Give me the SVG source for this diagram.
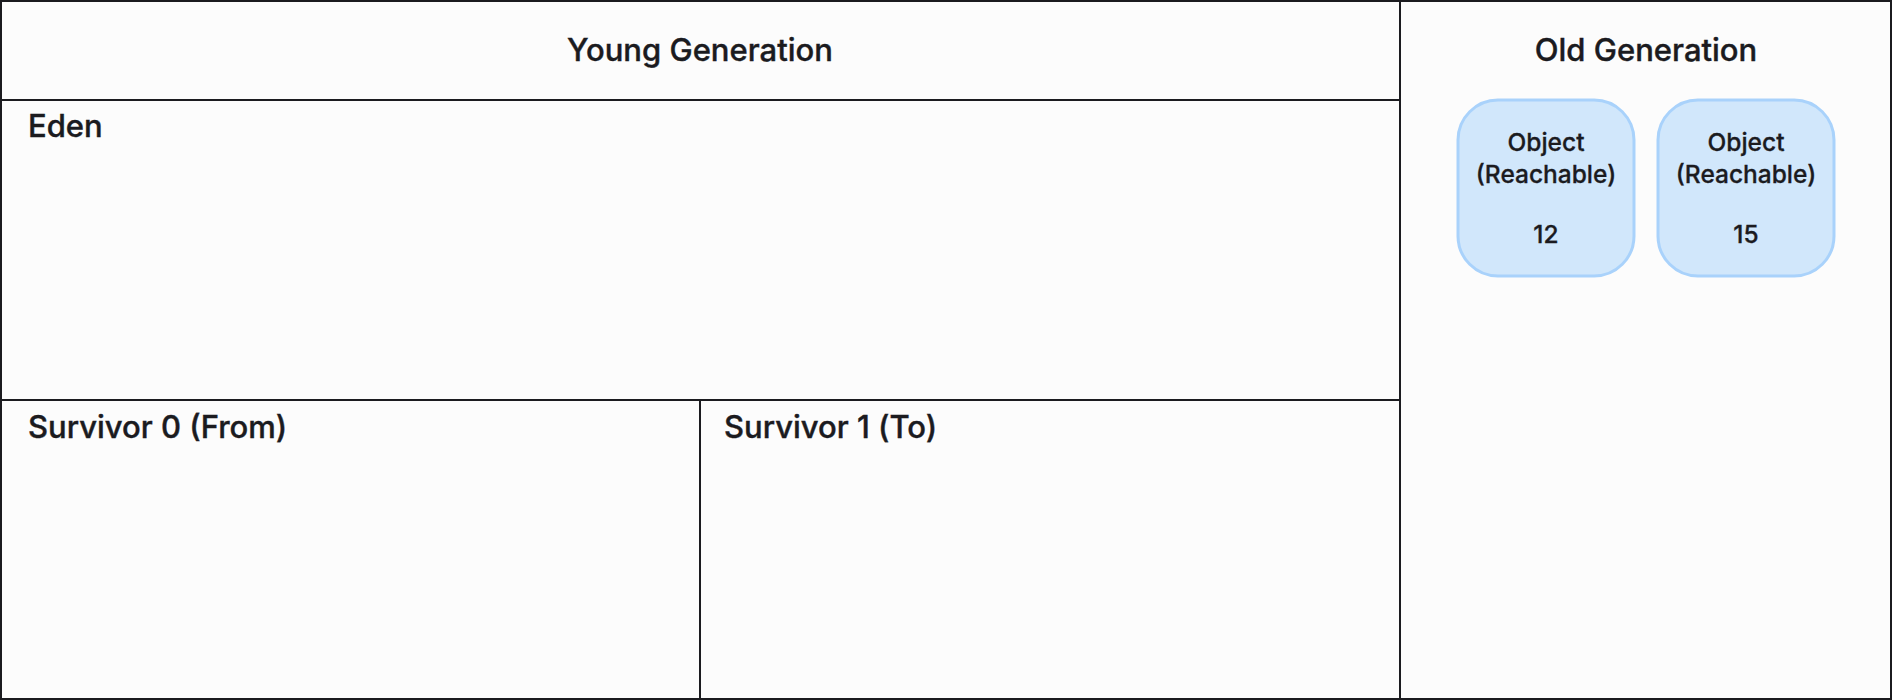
<svg xmlns="http://www.w3.org/2000/svg" width="1892" height="700" viewBox="0 0 1892 700">
<style>
.line{stroke:#1b1b1f;stroke-width:2;fill:none}
.title{font-family:Inter,"Noto Sans",sans-serif;font-weight:500;font-size:31px;fill:#1b1b1f;stroke:#1b1b1f;stroke-width:0.4px}
.obj rect{fill:#d1e7fb;stroke:#a9d2fb;stroke-width:3}
.obj text{font-family:Inter,"Noto Sans",sans-serif;font-weight:500;font-size:24.5px;fill:#1b1b1f;stroke:#1b1b1f;stroke-width:0.3px;text-anchor:middle}
</style>
<rect x="0" y="0" width="1892" height="700" fill="#fcfcfc"/>
<g id="young-generation">
<line class="line" x1="0" y1="100" x2="1400" y2="100"/>
<text class="title" x="700" y="61" text-anchor="middle">Young Generation</text>
</g>
<g id="eden">
<line class="line" x1="0" y1="400" x2="1400" y2="400"/>
<text class="title" x="28" y="137">Eden</text>
</g>
<g id="survivor0">
<text class="title" x="28" y="438">Survivor 0 (From)</text>
</g>
<g id="survivor1">
<line class="line" x1="700" y1="400" x2="700" y2="700"/>
<text class="title" x="724" y="438">Survivor 1 (To)</text>
</g>
<g id="old-generation">
<line class="line" x1="1400" y1="0" x2="1400" y2="700"/>
<text class="title" x="1646" y="61" text-anchor="middle">Old Generation</text>
</g>
<g id="object12" class="obj">
<rect x="1458" y="100" width="176" height="176" rx="40"/>
<text x="1546" y="151">Object</text>
<text x="1546" y="183">(Reachable)</text>
<text x="1546" y="243">12</text>
</g>
<g id="object15" class="obj">
<rect x="1658" y="100" width="176" height="176" rx="40"/>
<text x="1746" y="151">Object</text>
<text x="1746" y="183">(Reachable)</text>
<text x="1746" y="243">15</text>
</g>
<g id="connectors"></g>
<rect x="1" y="1" width="1890" height="698" class="line"/>
</svg>
